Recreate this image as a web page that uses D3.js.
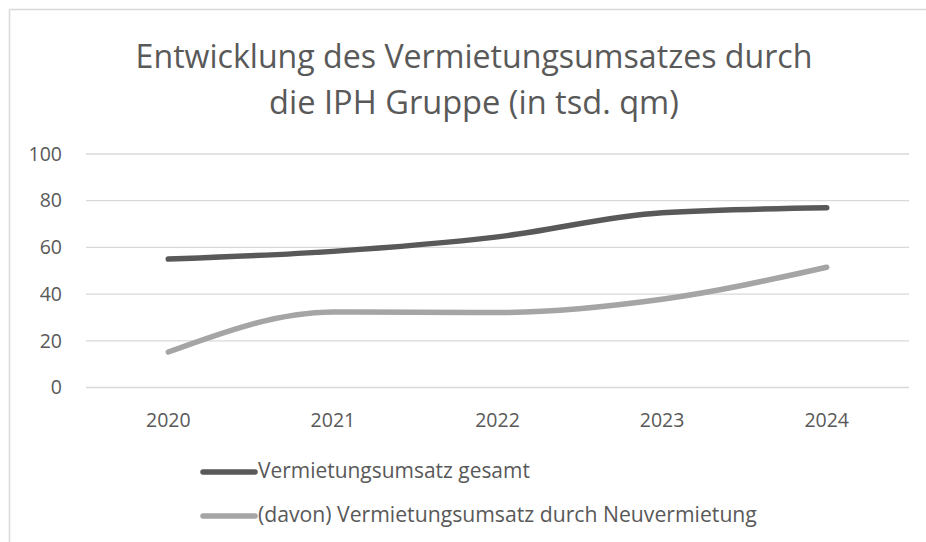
<!DOCTYPE html>
<html><head><meta charset="utf-8">
<script src="https://cdn.jsdelivr.net/npm/d3@7"></script>
<style>body{margin:0;background:#fff}svg{display:block}</style>
</head><body>
<svg id="c" width="926" height="542"></svg>
<script>
const years = ["2020","2021","2022","2023","2024"];
const gesamt = [55, 58.3, 64.5, 74.8, 77];
const neu = [15.2, 32.3, 32.1, 37.8, 51.5];
const yTicks = [0,20,40,60,80,100];
const seriesNames = ["Vermietungsumsatz gesamt","(davon) Vermietungsumsatz durch Neuvermietung"];
const titleLines = ["Entwicklung des Vermietungsumsatzes durch","die IPH Gruppe (in tsd. qm)"];

const svg = d3.select("#c");
const font = "'Open Sans', sans-serif";
const txt = "#595959";

// frame
svg.append("line").attr("x1",9.5).attr("x2",926).attr("y1",9.5).attr("y2",9.5).attr("stroke","#d9d9d9").attr("stroke-width",1.5);
svg.append("line").attr("x1",9.5).attr("x2",9.5).attr("y1",9.5).attr("y2",542).attr("stroke","#d9d9d9").attr("stroke-width",1.5);

const x = d3.scaleBand().domain(years).range([86,909]);
const y = d3.scaleLinear().domain([0,100]).range([387.5,154]);

// grid
svg.append("g").selectAll("line").data(yTicks).join("line")
  .attr("x1",86).attr("x2",909).attr("y1",d=>y(d)).attr("y2",d=>y(d))
  .attr("stroke","#d9d9d9").attr("stroke-width",1.3);

// y axis
const ya = svg.append("g").attr("transform","translate(62,0)")
  .call(d3.axisLeft(y).tickValues(yTicks).tickSize(0).tickPadding(0));
ya.select(".domain").remove();
ya.selectAll("text").attr("font-family",font).attr("font-size",19.5).attr("fill",txt);

// x axis
const xa = svg.append("g").attr("transform","translate(0,413)")
  .call(d3.axisBottom(x).tickSize(0).tickPadding(0));
xa.select(".domain").remove();
xa.selectAll("text").attr("font-family",font).attr("font-size",19.5).attr("fill",txt);

// lines
const line = d3.line().x((d,i)=>x(years[i])+x.bandwidth()/2).y(d=>y(d)).curve(d3.curveMonotoneX);
const colors = ["#595959","#a5a5a5"];
[gesamt,neu].forEach((s,i)=>{
  svg.append("path").attr("d",line(s)).attr("fill","none").attr("stroke",colors[i])
    .attr("stroke-width",5.5).attr("stroke-linecap","round").attr("stroke-linejoin","round");
});

// title
const tw = [677, 410];
const tb = [68, 114];
titleLines.forEach((t,i)=>{
  const el = svg.append("text").attr("x",474).attr("y",tb[i]).attr("text-anchor","middle")
    .attr("font-family",font).attr("font-weight",400).attr("font-size",32).attr("fill",txt).text(t);
  const w = el.node().getComputedTextLength();
  el.attr("font-size", 32*tw[0]/ (i===0? w : w*tw[0]/tw[1]) );
});

// legend
const lw = [272, 499];
const ly = [472, 516];
seriesNames.forEach((n,i)=>{
  svg.append("line").attr("x1",203).attr("x2",255).attr("y1",ly[i]).attr("y2",ly[i])
    .attr("stroke",colors[i]).attr("stroke-width",5.5).attr("stroke-linecap","round");
  const el = svg.append("text").attr("x",258).attr("y",ly[i]+6).attr("font-family",font)
    .attr("font-size",17).attr("fill",txt).text(n);
  const w = el.node().getComputedTextLength();
  el.attr("font-size",17*lw[i]/w);
});
</script>
</body></html>
